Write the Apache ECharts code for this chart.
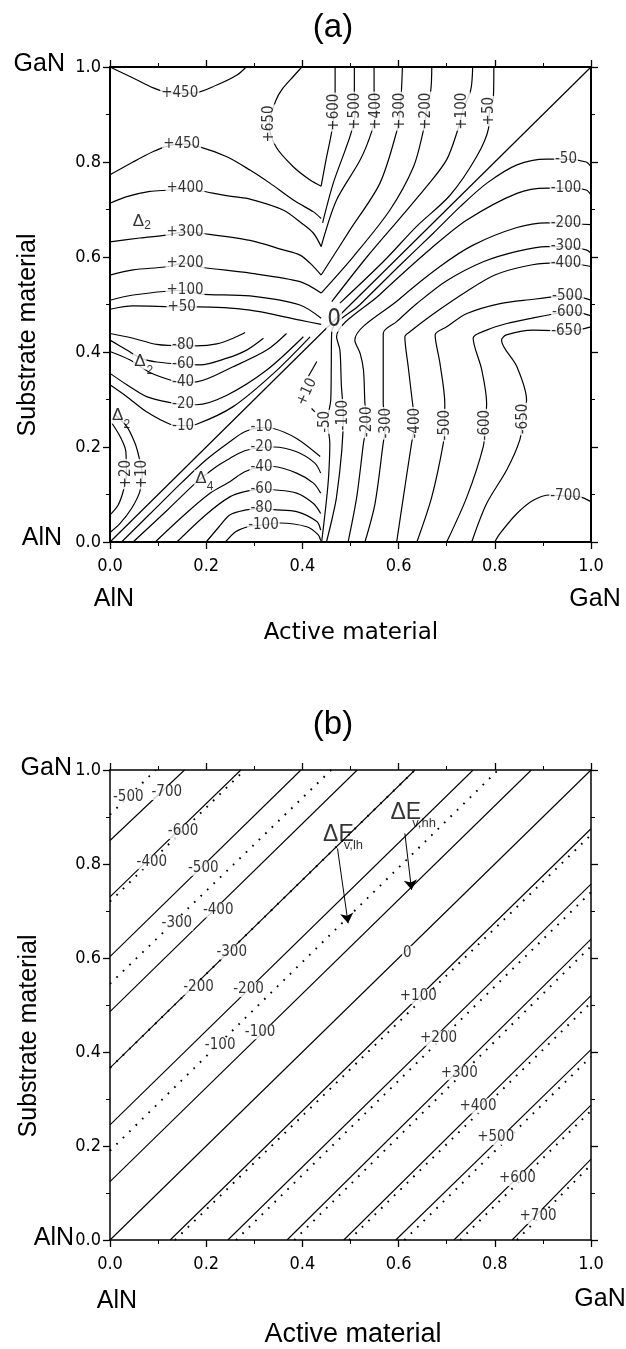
<!DOCTYPE html>
<html><head><meta charset="utf-8">
<script src="https://cdn.jsdelivr.net/npm/echarts@6/dist/echarts.min.js"></script>
<style>html,body{margin:0;padding:0;background:#fff}#c{width:626px;height:1349px}</style>
</head><body><div id="c"></div>
<script>
// ---------- Panel (a): contour lines (x = active, y = substrate) ----------
const a_p450_top = [[0,1.0],[0.048,0.977],[0.09,0.956],[0.114,0.948],[0.145,0.945],[0.173,0.945],[0.222,0.962],[0.264,0.983],[0.283,1.0]];
const a_p650 = [[0.399,1.0],[0.381,0.98],[0.357,0.952],[0.345,0.93],[0.331,0.88],[0.345,0.832],[0.381,0.79],[0.416,0.762],[0.439,0.749]];
const a_p450_L = [[0,0.773],[0.048,0.8],[0.09,0.822],[0.118,0.833],[0.149,0.838],[0.183,0.833],[0.243,0.811],[0.291,0.783],[0.333,0.755],[0.381,0.72],[0.423,0.695],[0.439,0.681]];
const a_p400_L = [[0,0.713],[0.035,0.727],[0.083,0.738],[0.125,0.741],[0.156,0.745],[0.19,0.739],[0.256,0.727],[0.291,0.722],[0.36,0.699],[0.4,0.67],[0.423,0.65],[0.439,0.622]];
const a_p300_L = [[0,0.632],[0.062,0.64],[0.118,0.646],[0.156,0.653],[0.19,0.65],[0.291,0.635],[0.36,0.615],[0.395,0.604],[0.416,0.587],[0.439,0.562]];
const a_p200_L = [[0,0.562],[0.048,0.573],[0.114,0.579],[0.156,0.587],[0.187,0.579],[0.291,0.566],[0.395,0.548],[0.439,0.524]];
const a_p100_L = [[0,0.509],[0.048,0.52],[0.156,0.53],[0.187,0.522],[0.291,0.518],[0.395,0.499],[0.439,0.471]];
const a_p50_L = [[0,0.49],[0.048,0.497],[0.149,0.495],[0.181,0.495],[0.291,0.488],[0.395,0.467],[0.439,0.458]];
const a_p600_R = [[0.439,0.749],[0.449,0.804],[0.461,0.864],[0.466,0.905],[0.468,0.945],[0.468,1.0]];
const a_p500_R = [[0.442,0.672],[0.464,0.755],[0.489,0.825],[0.502,0.864],[0.51,0.907],[0.508,0.952],[0.508,1.0]];
const a_p400_R = [[0.439,0.622],[0.471,0.72],[0.52,0.804],[0.544,0.864],[0.553,0.907],[0.549,0.952],[0.549,1.0]];
const a_p300_R = [[0.439,0.562],[0.499,0.657],[0.561,0.755],[0.596,0.864],[0.603,0.907],[0.606,0.952],[0.608,1.0]];
const a_p200_R = [[0.439,0.524],[0.506,0.601],[0.582,0.699],[0.631,0.79],[0.651,0.864],[0.658,0.907],[0.667,0.952],[0.669,1.0]];
const a_p100_R = [[0.461,0.506],[0.534,0.6],[0.603,0.682],[0.658,0.748],[0.7,0.805],[0.724,0.871],[0.733,0.907],[0.75,0.952],[0.754,1.0]];
const a_p50_R = [[0.478,0.503],[0.568,0.59],[0.638,0.665],[0.707,0.73],[0.762,0.811],[0.787,0.871],[0.789,0.907],[0.797,0.935],[0.798,1.0]];
const a_zero = [[0,0],[1,1]];
const a_m80_U = [[0,0.439],[0.048,0.429],[0.097,0.416],[0.152,0.413],[0.18,0.413],[0.222,0.417],[0.256,0.429],[0.281,0.441]];
const a_m60_U = [[0,0.425],[0.035,0.404],[0.066,0.386],[0.097,0.379],[0.152,0.374],[0.187,0.373],[0.243,0.387],[0.284,0.404],[0.319,0.429]];
const a_m40_U = [[0,0.401],[0.042,0.383],[0.083,0.357],[0.132,0.339],[0.152,0.336],[0.18,0.337],[0.256,0.369],[0.326,0.404],[0.367,0.439]];
const a_m20_U = [[0,0.355],[0.035,0.331],[0.076,0.306],[0.132,0.292],[0.152,0.29],[0.18,0.289],[0.243,0.309],[0.326,0.362],[0.402,0.432]];
const a_m10_U = [[0,0.331],[0.035,0.306],[0.076,0.274],[0.125,0.248],[0.152,0.245],[0.18,0.248],[0.256,0.285],[0.34,0.355],[0.416,0.432]];
const a_m10_L = [[0.024,0],[0.1,0.076],[0.15,0.126],[0.2,0.173],[0.249,0.211],[0.28,0.232],[0.315,0.241],[0.34,0.239],[0.388,0.218],[0.437,0.18]];
const a_m20_L = [[0.048,0],[0.12,0.068],[0.18,0.126],[0.22,0.158],[0.249,0.176],[0.28,0.192],[0.315,0.199],[0.34,0.2],[0.388,0.19],[0.426,0.166],[0.438,0.145]];
const a_m40_L = [[0.094,0],[0.16,0.062],[0.21,0.104],[0.249,0.127],[0.28,0.148],[0.315,0.158],[0.34,0.159],[0.388,0.145],[0.423,0.124],[0.438,0.103]];
const a_m60_L = [[0.139,0],[0.2,0.058],[0.249,0.095],[0.28,0.106],[0.315,0.111],[0.34,0.11],[0.388,0.103],[0.423,0.081],[0.438,0.06]];
const a_m80_L = [[0.2,0],[0.225,0.03],[0.249,0.057],[0.28,0.067],[0.315,0.071],[0.34,0.068],[0.388,0.064],[0.43,0.043],[0.438,0.025]];
const a_m100_L = [[0.24,0],[0.262,0.022],[0.29,0.033],[0.319,0.036],[0.353,0.04],[0.409,0.032],[0.433,0.015],[0.438,0.003]];
const a_p20 = [[0.004,0.25],[0.021,0.222],[0.033,0.19],[0.034,0.143],[0.028,0.109],[0.017,0.078],[0,0.057]];
const a_p10 = [[0.008,0.27],[0.035,0.243],[0.052,0.208],[0.06,0.18],[0.067,0.143],[0.062,0.106],[0.045,0.071],[0.021,0.039],[0,0.02]];
const a_p10_k1 = [[0.412,0.348],[0.43,0.38]];
const a_p10_k2 = [[0.419,0.281],[0.426,0.274]];
const a_m50_R = [[0.44,0],[0.447,0.06],[0.454,0.131],[0.457,0.208],[0.452,0.253],[0.459,0.3],[0.46,0.37],[0.461,0.443],[0.52,0.5],[0.6,0.58],[0.672,0.65],[0.728,0.706],[0.783,0.755],[0.846,0.794],[0.908,0.806],[0.948,0.806],[0.99,0.8],[1,0.79]];
const a_m100_R = [[0.45,0],[0.462,0.05],[0.471,0.095],[0.482,0.194],[0.485,0.267],[0.481,0.33],[0.478,0.404],[0.471,0.432],[0.56,0.52],[0.672,0.622],[0.742,0.678],[0.846,0.734],[0.908,0.745],[0.948,0.745],[0.99,0.741],[1,0.73]];
const a_m200_R = [[0.495,0],[0.513,0.095],[0.527,0.208],[0.534,0.253],[0.53,0.292],[0.527,0.362],[0.52,0.397],[0.509,0.425],[0.6,0.51],[0.686,0.58],[0.755,0.625],[0.846,0.662],[0.908,0.672],[0.948,0.671],[1,0.668]];
const a_m300_R = [[0.53,0],[0.551,0.081],[0.568,0.208],[0.574,0.25],[0.568,0.292],[0.568,0.439],[0.596,0.464],[0.638,0.502],[0.7,0.55],[0.776,0.59],[0.846,0.612],[0.908,0.622],[0.948,0.622],[0.99,0.615],[1,0.608]];
const a_m400_R = [[0.596,0],[0.61,0.095],[0.627,0.208],[0.634,0.25],[0.629,0.292],[0.62,0.369],[0.613,0.432],[0.624,0.443],[0.672,0.48],[0.742,0.528],[0.8,0.562],[0.86,0.58],[0.915,0.587],[0.948,0.587],[1,0.58]];
const a_m500_R = [[0.638,0],[0.669,0.095],[0.693,0.208],[0.696,0.246],[0.696,0.292],[0.686,0.376],[0.676,0.436],[0.7,0.453],[0.742,0.481],[0.811,0.502],[0.88,0.511],[0.922,0.516],[0.951,0.518],[0.98,0.515],[1,0.509]];
const a_m600_R = [[0.7,0],[0.742,0.095],[0.776,0.201],[0.78,0.246],[0.783,0.292],[0.773,0.362],[0.755,0.429],[0.783,0.446],[0.825,0.46],[0.88,0.472],[0.922,0.48],[0.951,0.484],[0.98,0.482],[1,0.476]];
const a_m650_R = [[0.752,0],[0.783,0.081],[0.825,0.152],[0.852,0.215],[0.858,0.259],[0.866,0.299],[0.846,0.369],[0.814,0.425],[0.824,0.436],[0.88,0.446],[0.922,0.445],[0.949,0.443],[0.98,0.448],[1,0.453]];
const a_m700_R = [[0.8,0],[0.811,0.018],[0.846,0.06],[0.88,0.088],[0.915,0.099],[0.947,0.097],[0.977,0.095],[1,0.085]];

const contoursA = [a_p450_top,a_p650,a_p450_L,a_p400_L,a_p300_L,a_p200_L,a_p100_L,a_p50_L,
  a_p600_R,a_p500_R,a_p400_R,a_p300_R,a_p200_R,a_p100_R,a_p50_R,a_zero,
  a_m80_U,a_m60_U,a_m40_U,a_m20_U,a_m10_U,a_m10_L,a_m20_L,a_m40_L,a_m60_L,a_m80_L,a_m100_L,
  a_p20,a_p10,a_p10_k1,a_p10_k2,a_m50_R,a_m100_R,a_m200_R,a_m300_R,a_m400_R,a_m500_R,a_m600_R,a_m650_R,a_m700_R];

// contour labels of panel (a): [x, y, text, rotation]
const labelsA = [
  [0.145,0.945,'+450',0],[0.149,0.838,'+450',0],[0.156,0.745,'+400',0],[0.156,0.653,'+300',0],
  [0.156,0.587,'+200',0],[0.156,0.53,'+100',0],[0.149,0.495,'+50',0],
  [0.331,0.88,'+650',90],[0.466,0.905,'+600',90],[0.51,0.907,'+500',90],[0.553,0.907,'+400',90],
  [0.603,0.907,'+300',90],[0.658,0.907,'+200',90],[0.733,0.907,'+100',90],[0.789,0.907,'+50',90],
  [0.948,0.806,'-50',0],[0.948,0.745,'-100',0],[0.948,0.671,'-200',0],[0.948,0.622,'-300',0],
  [0.948,0.587,'-400',0],[0.951,0.518,'-500',0],[0.951,0.484,'-600',0],[0.949,0.443,'-650',0],[0.947,0.097,'-700',0],
  [0.152,0.415,'-80',0],[0.152,0.374,'-60',0],[0.152,0.336,'-40',0],[0.152,0.29,'-20',0],[0.152,0.245,'-10',0],
  [0.315,0.241,'-10',0],[0.315,0.199,'-20',0],[0.315,0.158,'-40',0],[0.315,0.111,'-60',0],[0.315,0.071,'-80',0],[0.319,0.036,'-100',0],
  [0.034,0.143,'+20',90],[0.067,0.143,'+10',90],[0.409,0.316,'+10',65],
  [0.447,0.253,'-50',90],[0.485,0.267,'-100',90],[0.534,0.253,'-200',90],[0.574,0.25,'-300',90],
  [0.634,0.25,'-400',90],[0.696,0.246,'-500',90],[0.78,0.246,'-600',90],[0.858,0.259,'-650',90]
];
const zeroLabelA = [[0.466,0.468,'0',0]];
const deltaA = [[0.059,0.676,'Δ'],[0.062,0.381,'Δ'],[0.016,0.267,'Δ'],[0.189,0.134,'Δ']];
const deltaSubA = [[0.078,0.666,'2'],[0.083,0.36,'2'],[0.035,0.246,'2'],[0.208,0.116,'4']];

// ---------- Panel (b): straight iso-lines ----------
const b_hh = [
  [[0,0.85],[0.155,1]],[[0,0.73],[0.272,1]],[[0,0.603],[0.397,1]],[[0,0.486],[0.514,1]],
  [[0,0.366],[0.634,1]],[[0,0.245],[0.755,1]],[[0,0.124],[0.876,1]],[[0,0],[1,1]],
  [[0.125,0],[1,0.875]],[[0.245,0],[1,0.757]],[[0.368,0],[1,0.64]],[[0.486,0],[1,0.52]],
  [[0.594,0],[1,0.405]],[[0.715,0],[1,0.287]],[[0.836,0],[1,0.172]]
];
const b_lh = [
  [[0,0.905],[0.095,1]],[[0,0.72],[0.28,1]],[[0,0.545],[0.46,1]],[[0,0.366],[0.634,1]],[[0,0.19],[0.807,1]],
  [[0.135,0],[1,0.862]],[[0.262,0],[1,0.74]],[[0.383,0],[1,0.625]],[[0.497,0],[1,0.505]],
  [[0.612,0],[1,0.39]],[[0.728,0],[1,0.275]],[[0.846,0],[1,0.16]]
];
const labelsB = [
  [0.038,0.943,'-500'],[0.118,0.952,'-700'],[0.152,0.869,'-600'],[0.087,0.805,'-400'],[0.194,0.791,'-500'],
  [0.139,0.674,'-300'],[0.225,0.702,'-400'],[0.253,0.613,'-300'],[0.184,0.538,'-200'],[0.288,0.533,'-200'],
  [0.229,0.415,'-100'],[0.312,0.443,'-100'],[0.618,0.61,'0'],[0.641,0.518,'+100'],[0.683,0.429,'+200'],
  [0.726,0.356,'+300'],[0.765,0.285,'+400'],[0.802,0.218,'+500'],[0.847,0.131,'+600'],[0.89,0.05,'+700']
];
const deltaB = [[0.475,0.862,'ΔE'],[0.615,0.91,'ΔE']];
const deltaSubB = [[0.506,0.839,'v,lh'],[0.653,0.886,'v,hh']];
const arrowsB = [[[0.473,0.833],[0.495,0.674]],[[0.613,0.865],[0.627,0.745]]];
const tickLabels = ['0.0','0.2','0.4','0.6','0.8','1.0'];

// ---------- build ----------
const NARROW = "'Liberation Sans Narrow','DejaVu Sans Condensed','Arial Narrow',sans-serif";
const SANS = "'Liberation Sans',Arial,sans-serif";

function axisCommon(g, pos, showLabel, isX){
  return {
    type:'value', gridIndex:g, min:0, max:1, interval:0.2, position:pos,
    axisLine:{show:true, onZero:false, lineStyle:{color:'#000', width: g===0?2:1.5}},
    axisTick:{show:true, inside:false, length:7, lineStyle:{color:'#000', width:1.3}},
    minorTick:{show:true, splitNumber:2, length:4, lineStyle:{color:'#000', width:1}},
    splitLine:{show:false}, minorSplitLine:{show:false},
    axisLabel:{show:showLabel, margin: isX?15:9, color:'#000', fontSize:18, fontFamily:NARROW,
      showMinLabel:true, showMaxLabel:true,
      formatter: v => tickLabels[Math.round(v*5)] }
  };
}
const xAxes = [axisCommon(0,'bottom',true,true), axisCommon(0,'top',false,true),
               axisCommon(1,'bottom',true,true), axisCommon(1,'top',false,true)];
const yAxes = [axisCommon(0,'left',true,false), axisCommon(0,'right',false,false),
               axisCommon(1,'left',true,false), axisCommon(1,'right',false,false)];

const series = [];
contoursA.forEach(d => series.push({
  type:'line', xAxisIndex:0, yAxisIndex:0, data:d, symbol:'none', smooth:0.3,
  lineStyle:{color:'#000', width:1.2}, silent:true, z:2
}));
b_hh.forEach(d => series.push({
  type:'line', xAxisIndex:2, yAxisIndex:2, data:d, symbol:'none',
  lineStyle:{color:'#000', width:1.1}, silent:true, z:2
}));
b_lh.forEach(d => series.push({
  type:'line', xAxisIndex:2, yAxisIndex:2, data:d, symbol:'none',
  lineStyle:{color:'#000', width:1.9, type:[1.7,7.3]}, silent:true, z:2
}));
series.push({
  type:'lines', coordinateSystem:'cartesian2d', xAxisIndex:2, yAxisIndex:2,
  symbol:['none','arrow'], symbolSize:[0,10], silent:true, z:3,
  lineStyle:{color:'#000', width:1, opacity:1, curveness:0},
  data: arrowsB.map(c => ({coords:c}))
});

function textSeries(items, g, fontSize, family, bg){
  return {
    type:'scatter', xAxisIndex:g*2, yAxisIndex:g*2, symbolSize:1, silent:true, z:10,
    itemStyle:{color:'rgba(0,0,0,0)'},
    data: items.map(it => ({
      value:[it[0], it[1]],
      label:{show:true, position:'inside', formatter:it[2], rotate:it[3]||0, color:'#000',
        fontSize:fontSize, fontFamily:family, lineHeight:fontSize,
        backgroundColor: bg ? '#fff' : 'transparent', padding:[0,1]}
    }))
  };
}
series.push(textSeries(labelsA, 0, 15, NARROW, true));
series.push(textSeries(zeroLabelA, 0, 24, NARROW, true));
series.push(textSeries(deltaA, 0, 17, SANS, true));
series.push(textSeries(deltaSubA, 0, 12, SANS, false));
series.push(textSeries(labelsB, 1, 15, NARROW, true));
series.push(textSeries(deltaB, 1, 23, SANS, false));
series.push(textSeries(deltaSubB, 1, 13, SANS, false));

function txt(s, x, y, font, align, rot){
  return {type:'text', x:x, y:y, rotation:rot||0, silent:true,
    style:{text:s, font:font, fill:'#000', align:align||'center', verticalAlign:'middle',
      textAlign:align||'center', textVerticalAlign:'middle'}};
}
const graphic = [
  txt('(a)', 333, 28, "33px 'Liberation Sans'"),
  txt('GaN', 65, 64, "25px 'Liberation Sans'", 'right'),
  txt('AlN', 62, 538, "25px 'Liberation Sans'", 'right'),
  txt('AlN', 114, 599, "25px 'Liberation Sans'"),
  txt('GaN', 595, 599, "25px 'Liberation Sans'"),
  txt('Active material', 351, 633, "23px 'DejaVu Sans'"),
  txt('Substrate material', 28, 335, "25px 'Liberation Sans'", 'center', Math.PI/2),
  txt('(b)', 333, 725, "33px 'Liberation Sans'"),
  txt('GaN', 72, 768, "25px 'Liberation Sans'", 'right'),
  txt('AlN', 74, 1238, "25px 'Liberation Sans'", 'right'),
  txt('AlN', 117, 1301, "25px 'Liberation Sans'"),
  txt('GaN', 600, 1299, "25px 'Liberation Sans'"),
  txt('Active material', 353, 1335, "27px 'Liberation Sans'"),
  txt('Substrate material', 29, 1036, "25px 'Liberation Sans'", 'center', Math.PI/2)
];

const chart = echarts.init(document.getElementById('c'), null, {renderer:'canvas'});
chart.setOption({
  animation:false,
  backgroundColor:'#fff',
  textStyle:{fontFamily:SANS},
  grid:[{left:110, top:67, width:481, height:475}, {left:110, top:770, width:481, height:470}],
  xAxis:xAxes, yAxis:yAxes, series:series, graphic:graphic
});
</script></body></html>
